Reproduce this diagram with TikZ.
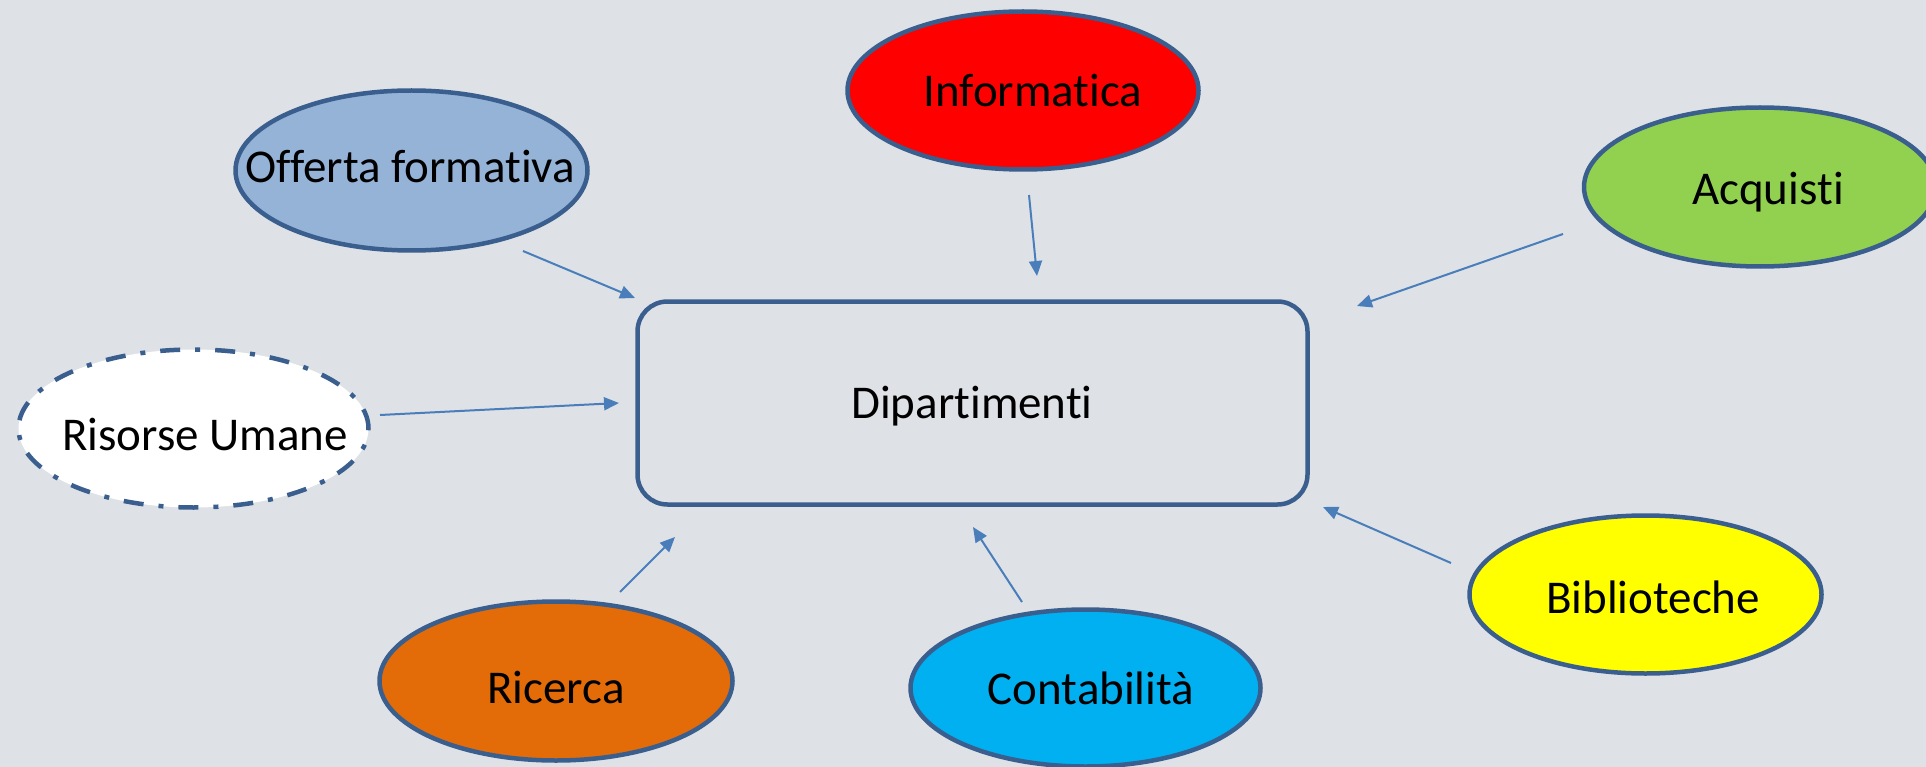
\documentclass[tikz,border=0pt]{standalone}
\usepackage{fontspec}
\setmainfont{Carlito}[Ligatures=NoCommon]
\usetikzlibrary{shapes.geometric,arrows.meta}
\definecolor{bg}{RGB}{222,226,230}
\definecolor{edge}{RGB}{58,95,142}
\definecolor{arr}{RGB}{74,126,187}
\definecolor{cOff}{RGB}{149,179,215}
\definecolor{cInf}{RGB}{255,0,0}
\definecolor{cAcq}{RGB}{146,208,80}
\definecolor{cBib}{RGB}{255,255,0}
\definecolor{cRic}{RGB}{227,108,9}
\definecolor{cCon}{RGB}{0,176,240}
\begin{document}
\begin{tikzpicture}[x=1pt,y=-1pt,
  oval/.style={ellipse, draw=edge, line width=4.5pt, inner sep=0pt},
  lbl/.style={anchor=base, inner sep=0pt, font=\fontsize{47}{56}\selectfont},
  conn/.style={draw=arr, line width=2pt, -{Triangle[length=15pt,width=13pt]}}]
\useasboundingbox (0,0) rectangle (1926,767);
\fill[bg] (0,0) rectangle (1926,767);

% central box
\node[draw=edge, line width=4.5pt, rounded corners=30pt, minimum width=670pt, minimum height=203pt, inner sep=0pt] (dip) at (972.5,403) {};
\node[lbl] (tdip) at (972,418) {Dipartimenti};

% ellipses
\node[oval, fill=cInf, minimum width=351pt, minimum height=158pt] (inf) at (1023,90.5) {};
\node[lbl] (tinf) at (1033,107) {Informatica};

\node[oval, fill=cOff, minimum width=352pt, minimum height=160pt] (off) at (411.5,170.5) {};
\node[lbl] (toff) at (410,183) {Offerta formativa};

\node[oval, fill=cAcq, minimum width=352pt, minimum height=159pt] (acq) at (1760,187) {};
\node[lbl] (tacq) at (1768,205) {Acquisti};

\node[oval, fill=white, minimum width=350pt, minimum height=158pt, line cap=butt,
      dash pattern=on 20pt off 15pt on 5pt off 15pt] (ris) at (193.5,428.5) {};
\node[lbl] (tris) at (205,450) {Risorse Umane};

\node[oval, fill=cBib, minimum width=352pt, minimum height=158pt] (bib) at (1645.5,594.5) {};
\node[lbl] (tbib) at (1653,613) {Biblioteche};

\node[oval, fill=cRic, minimum width=353pt, minimum height=159pt] (ric) at (556,681) {};
\node[lbl] (tric) at (556,703) {Ricerca};

\node[oval, fill=cCon, minimum width=350pt, minimum height=157pt] (con) at (1085.5,688) {};
\node[lbl] (tcon) at (1091,704) {Contabilità};

% connector end points
\coordinate (offS) at (523,251);  \coordinate (offE) at (635,298);
\coordinate (infS) at (1029,195); \coordinate (infE) at (1037,276);
\coordinate (acqS) at (1563,234); \coordinate (acqE) at (1357,306);
\coordinate (risS) at (380,415);  \coordinate (risE) at (619,403);
\coordinate (bibS) at (1451,563); \coordinate (bibE) at (1323,507);
\coordinate (ricS) at (620,592);  \coordinate (ricE) at (675,537);
\coordinate (conS) at (1022,602); \coordinate (conE) at (973,527);

\draw[conn] (offS) -- (offE);
\draw[conn] (infS) -- (infE);
\draw[conn] (acqS) -- (acqE);
\draw[conn] (risS) -- (risE);
\draw[conn] (bibS) -- (bibE);
\draw[conn] (ricS) -- (ricE);
\draw[conn] (conS) -- (conE);
\end{tikzpicture}
\end{document}
